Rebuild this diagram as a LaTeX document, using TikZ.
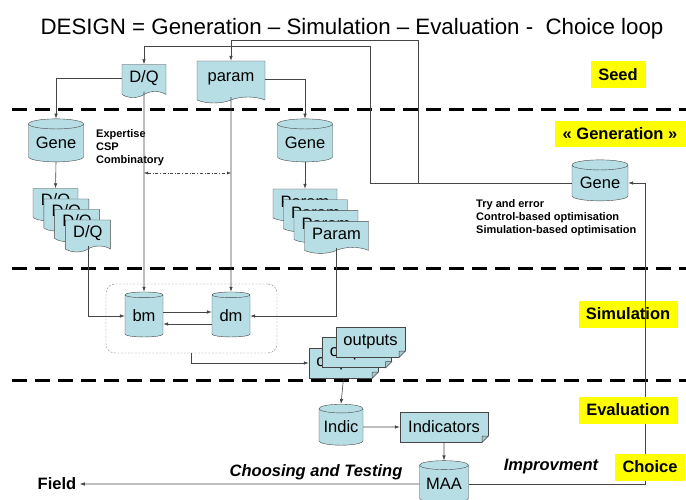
\documentclass[tikz,border=0pt]{standalone}
\usepackage{fontspec}
\setmainfont{Liberation Sans}
\usetikzlibrary{arrows.meta, shapes.geometric, shapes.symbols, positioning, calc}
\definecolor{cardfill}{RGB}{183,222,228}
\definecolor{hilite}{RGB}{255,255,0}
\definecolor{linegray}{RGB}{70,70,70}
\newcommand{\dogear}[1]{%
  \fill[white] ([xshift=-6.5pt,yshift=-0.8pt]#1.south east) -- ([xshift=0.8pt,yshift=-0.8pt]#1.south east) -- ([xshift=0.8pt,yshift=6.5pt]#1.south east) -- cycle;
  \filldraw[draw=linegray, fill=cardfill!75!gray, line width=0.5pt] ([xshift=-6pt]#1.south east) -- ([xshift=-6pt,yshift=6pt]#1.south east) -- ([yshift=6pt]#1.south east) -- cycle;}

\begin{document}
\begin{tikzpicture}[x=1pt, y=-1pt,
  every node/.style={font=\fontsize{16.5}{19}\selectfont},
  cyl/.style={cylinder, shape border rotate=90, aspect=0.25, draw=linegray, fill=cardfill, inner sep=0pt},
  doc/.style={tape, tape bend top=none, tape bend height=6pt, draw=linegray, fill=cardfill, inner sep=1pt},
  note/.style={rectangle, draw=linegray, fill=cardfill, inner sep=1pt},
  tag/.style={fill=hilite, font=\fontsize{16.5}{19}\selectfont\bfseries, inner sep=0pt, minimum height=27pt},
  small/.style={font=\fontsize{11}{13}\selectfont\bfseries, align=left, anchor=north west, inner sep=0pt},
  edge/.style={draw=linegray, line width=0.6pt, -{Latex[length=5pt,width=3.5pt]}},
  band/.style={line width=3pt, dash pattern=on 15pt off 8pt},
  simbox/.style={draw=gray, dash pattern=on 2pt off 1.5pt, rounded corners=9pt, minimum width=171pt, minimum height=69pt}]
\useasboundingbox (0,0) rectangle (686,500);

\node (title) at (352,29) {\fontsize{22.3}{26}\selectfont DESIGN = Generation – Simulation – Evaluation -\ \ Choice loop};

\draw[band] (12,110) -- (686,110);
\draw[band] (12,268) -- (686,268);
\draw[band] (12,380) -- (686,380);

\node[tag, minimum width=55pt] (seed) at (618,75) {Seed};
\node[tag, minimum width=131pt, minimum height=26pt] (gen) at (620,134) {« Generation »};
\node[tag, minimum width=99pt] (simu) at (628,314) {Simulation};

% seed
\node[doc, minimum width=44pt, minimum height=33pt] (dqtop) at (144,78) {D/Q};
\node[doc, minimum width=68pt, minimum height=42pt] (param) at (231,79) {param};

% generation
\node[cyl, minimum width=55pt, minimum height=43pt] (genel) at (56,143) {Gene};
\node[cyl, minimum width=55pt, minimum height=43pt] (genem) at (305,143) {Gene};
\node[cyl, minimum width=56pt, minimum height=41pt] (gener) at (600,183) {Gene};
\foreach \k in {1,...,4}
  \node[doc, minimum width=45pt, minimum height=32pt] (dq\k) at ({55.5+10.8*(\k-1)},{201.5+10.5*(\k-1)}) {D/Q};
\foreach \k in {1,...,4}
  \node[doc, minimum width=64pt, minimum height=32pt] (pm\k) at ({305+10.5*(\k-1)},{202+10.8*(\k-1)}) {Param};
\node[small] (expert) at (96,129) {Expertise\\CSP\\Combinatory};
\node[small] (trial) at (476,199) {Try and error\\Control-based optimisation\\Simulation-based optimisation};

% simulation
\node[simbox] (sim) at (191.5,318.5) {};
\node[cyl, minimum width=38pt, minimum height=45pt] (bm) at (144,316) {bm};
\node[cyl, minimum width=38pt, minimum height=45pt] (dm) at (231,316) {dm};
\foreach \k in {1,...,3} {
  \node[note, minimum width=69pt, minimum height=30pt] (out\k) at ({343.5+13.5*(\k-1)},{363-10.5*(\k-1)}) {outputs};
  \dogear{out\k}
}

% evaluation and choice
\node[cyl, minimum width=44pt, minimum height=41pt] (indic) at (341,427) {Indic};
\node[note, minimum width=88pt, minimum height=30pt] (indics) at (444,427) {Indicators};
\dogear{indics}
\node[cyl, minimum width=49pt, minimum height=42pt] (maa) at (444,484) {MAA};
\node[font=\fontsize{16.5}{19}\selectfont\bfseries] (field) at (57,484) {Field};
\node[font=\fontsize{16.5}{19}\selectfont\bfseries\itshape] (choosing) at (316,472) {Choosing and Testing};
\node[font=\fontsize{16.5}{19}\selectfont\bfseries\itshape] (improv) at (551,467) {Improvment};

\coordinate (jn) at (418,183);
\draw[edge] (gener.west) -| (370,46) -| (dqtop.north);
\draw[edge] (jn) -- ++(0,-143) -| (param.north);
\draw[edge] (dqtop.west) -| (genel.north);
\draw[edge] (param.east) -| (genem.north);
\draw[edge] (genel.south) -- (dq1.north);
\draw[edge] (genem.south) -- (pm1.north);
\draw[edge] (dqtop.south) -- (bm.north);
\draw[edge] (param.south) -- (dm.north);
\draw[{Latex[length=4pt,width=3pt]}-{Latex[length=4pt,width=3pt]}, draw=linegray, dash dot] (dqtop.south |- 0,173) -- (param.south |- 0,173);
\draw[edge] (dq4.south) |- (bm.west);
\draw[edge] (pm4.south) |- (dm.east);
\draw[edge] ([yshift=4pt]bm.east) -- ([yshift=4pt]dm.west);
\draw[edge] ([yshift=-8pt]dm.west) -- ([yshift=-8pt]bm.east);
\draw[edge] (sim.south) |- (out1.west);
\draw[edge] (out1.south) -- (indic.north);
\draw[edge] (indic.east) -- (indics.west);
\draw[edge] (indics.south) -- (maa.north);
\draw[edge] (maa.west) -- (field.east);
\draw[edge] (maa.east) -| ([xshift=17pt]gener.east) -- (gener.east);

\node[tag, minimum width=99pt] (eval) at (628,410) {Evaluation};
\node[tag, minimum width=70pt] (choice) at (650,467) {Choice};
\end{tikzpicture}
\end{document}
